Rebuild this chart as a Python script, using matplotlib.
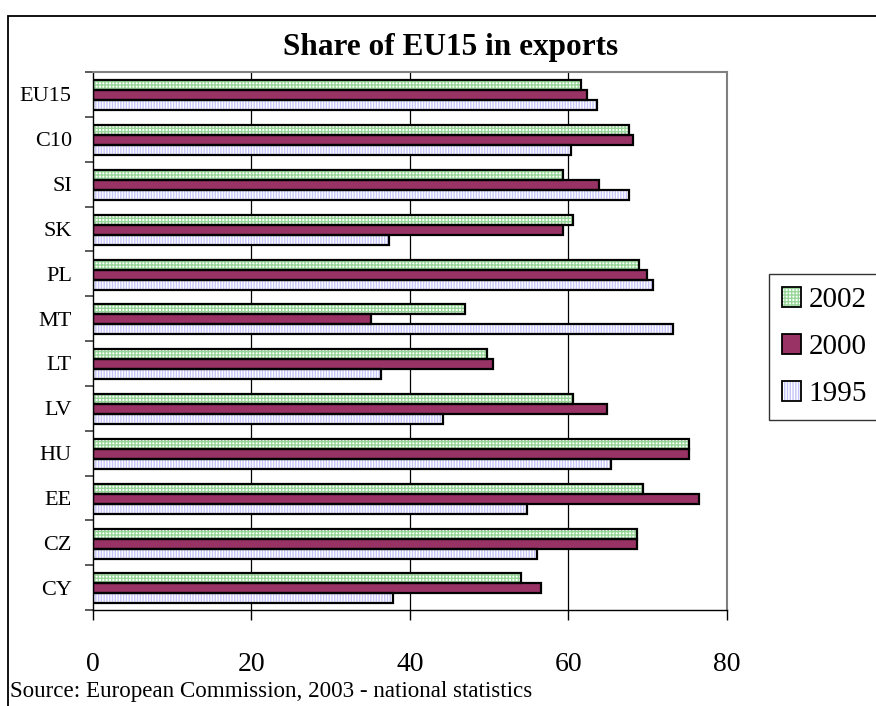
import numpy as np
import matplotlib
matplotlib.use("Agg")
import matplotlib.pyplot as plt
from matplotlib.patches import Patch, Rectangle
from matplotlib.legend_handler import HandlerTuple

# Share of exports going to the EU15, per country (top to bottom as shown)
countries = ["EU15", "C10", "SI", "SK", "PL", "MT", "LT", "LV", "HU", "EE", "CZ", "CY"]
share_2002 = [61.6, 67.6, 59.3, 60.6, 68.9, 47.0, 49.7, 60.6, 75.2, 69.4, 68.6, 54.0]
share_2000 = [62.3, 68.1, 63.9, 59.3, 69.9, 35.1, 50.5, 64.9, 75.2, 76.5, 68.6, 56.6]
share_1995 = [63.6, 60.3, 67.7, 37.4, 70.7, 73.2, 36.3, 44.2, 65.4, 54.8, 56.0, 37.9]
years = ["2002", "2000", "1995"]
x_ticks = [0, 20, 40, 60, 80]

plt.rcParams["font.family"] = ["Liberation Serif", "DejaVu Serif"]
plt.rcParams["hatch.linewidth"] = 1.0

fig = plt.figure(figsize=(8.76, 7.06), dpi=100)
ax = fig.add_axes([92.7 / 876, 1 - 610 / 706, (727 - 92.7) / 876, (610 - 72) / 706])

# outer chart frame (only left and top edges fall inside the image)
fig.patches.append(Rectangle((8 / 876, -0.2), 1.5, 1.2 - 16 / 706, transform=fig.transFigure,
                             fill=False, edgecolor="black", linewidth=1.3, zorder=0))

n = len(countries)
pos = np.arange(n)[::-1]
h = 0.223
styles = [
    dict(values=share_2002, offset=h, face="white", hatch="+++++", hcolor="#99d699"),
    dict(values=share_2000, offset=0.0, face="#993366", hatch=None, hcolor="#993366"),
    dict(values=share_1995, offset=-h, face="white", hatch="||||||", hcolor="#c4c4fa"),
]

handles = []
for st in styles:
    y = pos + st["offset"] - 0.02
    ax.barh(y, st["values"], height=h, color=st["face"], hatch=st["hatch"],
            edgecolor=st["hcolor"], linewidth=0, zorder=2)
    ax.barh(y, st["values"], height=h, fill=False, edgecolor="black",
            linewidth=1.6, zorder=3)
    handles.append((Patch(facecolor=st["face"], hatch=st["hatch"], edgecolor=st["hcolor"], linewidth=0),
                    Patch(fill=False, edgecolor="black", linewidth=1.3)))

ax.set_xlim(0, 80)
ax.set_ylim(-0.5, n - 0.5)

# vertical gridlines
for v in x_ticks[1:-1]:
    ax.axvline(v, color="black", linewidth=0.9, zorder=1)

ax.spines["top"].set_color("#808080")
ax.spines["right"].set_color("#808080")
ax.spines["top"].set_linewidth(1.5)
ax.spines["right"].set_linewidth(1.5)
ax.spines["left"].set_linewidth(1.0)
ax.spines["bottom"].set_linewidth(1.0)

ax.set_xticks(x_ticks)
ax.set_xticklabels([str(v) for v in x_ticks], fontsize=20)
ax.tick_params(axis="x", direction="out", length=7, width=1.0, pad=23)

# ticks between categories, labels centred on each category
ax.set_yticks(np.arange(n + 1) - 0.5)
ax.set_yticklabels([])
ax.tick_params(axis="y", which="major", direction="out", length=6, width=1.2, color="#404040")
ax.set_yticks(pos, minor=True)
ax.set_yticklabels(countries, minor=True, fontsize=16)
ax.tick_params(axis="y", which="minor", length=0, pad=15)

fig.text(451 / 876, 1 - 55 / 706, "Share of EU15 in exports", ha="center", va="baseline",
         fontsize=22.5, fontweight="bold")
fig.text(10 / 876, 1 - 697 / 706, "Source: European Commission, 2003 - national statistics",
         ha="left", va="baseline", fontsize=16.6)

leg = fig.legend(handles, years, handler_map={tuple: HandlerTuple(ndivide=1)},
                 loc="upper left", bbox_to_anchor=(769 / 876, 1 - 274 / 706),
                 borderaxespad=0, fontsize=21, frameon=True, fancybox=False,
                 edgecolor="black", handlelength=0.65, handleheight=0.65,
                 handletextpad=0.25, labelspacing=0.72, borderpad=0.45)
leg.get_frame().set_linewidth(1.0)

fig.savefig("out.png", dpi=100)
